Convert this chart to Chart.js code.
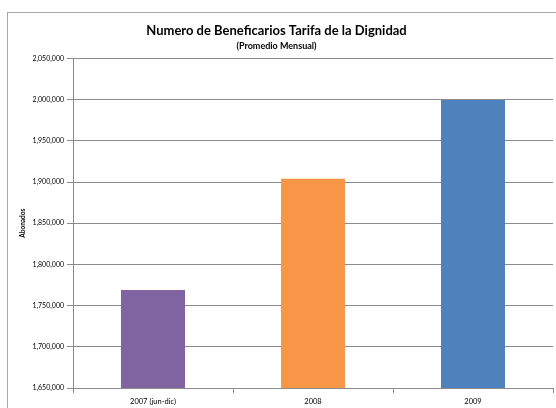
<!DOCTYPE html>
<html>
<head>
<meta charset="utf-8">
<script src="https://cdn.jsdelivr.net/npm/chart.js@4"></script>
<style>
html,body{margin:0;padding:0;background:#fff;}
#wrap{width:556px;height:408px;position:relative;}
</style>
</head>
<body>
<div id="wrap"><canvas id="c" width="556" height="408"></canvas></div>
<script>
const categories = ['2007 (jun-dic)', '2008', '2009'];
const beneficiarios = [1769000, 1904000, 1999500];
const barColors = ['#8064A2', '#F79646', '#4F81BD'];
const yMin = 1650000, yMax = 2050000, yStep = 50000;
const titleText = 'Numero de Beneficarios Tarifa de la Dignidad';
const subtitleText = '(Promedio Mensual)';
const yAxisTitle = 'Abonados';

const FONT = 'Lato, "Open Sans", sans-serif';

const borderPlugin = {
  id: 'outerBorder',
  beforeDraw(chart) {
    const ctx = chart.ctx;
    ctx.save();
    ctx.fillStyle = '#fff';
    ctx.fillRect(0, 0, chart.width, chart.height);
    ctx.strokeStyle = '#a6a6a6';
    ctx.lineWidth = 1;
    ctx.strokeRect(7.5, 12.5, 700, 600);
    ctx.restore();
  }
};

new Chart(document.getElementById('c'), {
  type: 'bar',
  data: {
    labels: categories,
    datasets: [{
      data: beneficiarios,
      backgroundColor: barColors,
      borderWidth: 0,
      categoryPercentage: 1,
      barPercentage: 0.4
    }]
  },
  options: {
    responsive: false,
    animation: false,
    devicePixelRatio: 1,
    layout: { padding: { top: 23, right: 3, left: 0, bottom: 0 } },
    plugins: {
      legend: { display: false },
      tooltip: { enabled: false },
      title: {
        display: true, text: titleText, color: '#000',
        font: { family: FONT, size: 13, weight: 'bold' },
        padding: { top: 0, bottom: 2 }
      },
      subtitle: {
        display: true, text: subtitleText, color: '#000',
        font: { family: FONT, size: 9, weight: 'bold' },
        padding: { top: 0, bottom: 7 }
      }
    },
    scales: {
      x: {
        offset: true,
        grid: { offset: true, drawOnChartArea: false, color: '#8c8c8c', tickLength: 5, tickColor: '#8c8c8c' },
        border: { color: '#8c8c8c' },
        ticks: { color: '#000', font: { family: FONT, size: 7.5 }, padding: 4, maxRotation: 0 },
        afterFit(s) { s.height = 20; }
      },
      y: {
        min: yMin, max: yMax,
        grid: { color: '#8c8c8c', tickLength: 6 },
        border: { color: '#8c8c8c' },
        ticks: {
          stepSize: yStep, color: '#000', font: { family: FONT, size: 7 }, padding: 3,
          callback: v => v.toLocaleString('en-US')
        },
        title: {
          display: true, text: yAxisTitle, color: '#000',
          font: { family: FONT, size: 6.5, weight: 'bold' },
          padding: { top: 19, bottom: 0 }
        },
        afterFit(s) { s.width = 73; }
      }
    }
  },
  plugins: [borderPlugin]
});
</script>
</body>
</html>
